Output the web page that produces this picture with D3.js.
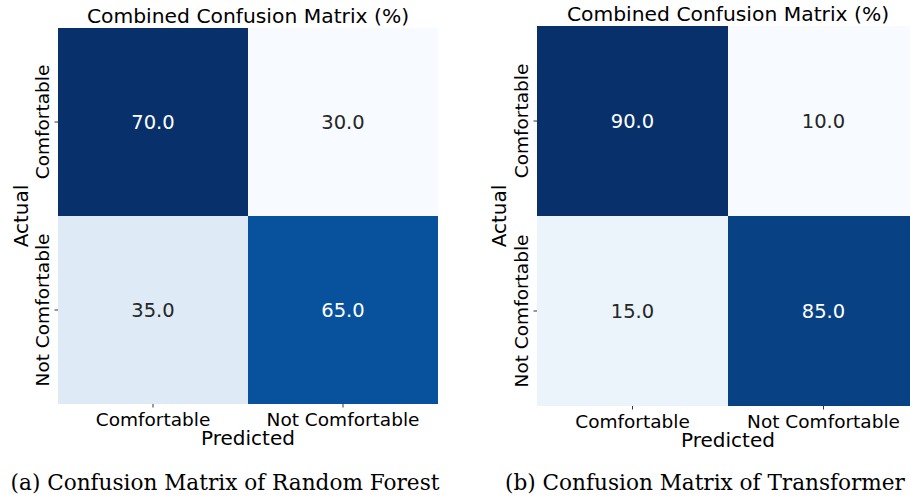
<!DOCTYPE html>
<html>
<head>
<meta charset="utf-8">
<script src="https://cdn.jsdelivr.net/npm/d3@7"></script>
<style>
  body { margin: 0; background: #fff; }
  svg { display: block; }
  text { font-family: "DejaVu Sans", sans-serif; }
</style>
</head>
<body>
<div id="container"></div>
<script>
// classes
var labels = ["Comfortable", "Not Comfortable"]
// values (%) row = actual, col = predicted
var rfValues = [[70.0, 30.0], [35.0, 65.0]]
var trValues = [[90.0, 10.0], [15.0, 85.0]]
var title = "Combined Confusion Matrix (%)"
var captions = ["(a) Confusion Matrix of Random Forest", "(b) Confusion Matrix of Transformer"]

var ancho = 910, alto = 500

var svg = d3.select("#container").append("svg")
    .attr("width", ancho)
    .attr("height", alto)

// Blues like matplotlib (linear between the 9 brewer stops)
var blues = d3.piecewise(d3.interpolateRgb, d3.schemeBlues[9])

var paneles = [
  {values: rfValues, x0: 58, x1: 438, y0: 28, y1: 404, titleY: 23, caption: captions[0], capX: 225, yLab: 20},
  {values: trValues, x0: 537, x1: 919, y0: 26, y1: 406, titleY: 21, caption: captions[1], capX: 705, yLab: 498}
]

paneles.forEach(function(p) {
  var g = svg.append("g")
  var x = d3.scaleBand().domain(labels).range([p.x0, p.x1])
  var y = d3.scaleBand().domain(labels).range([p.y0, p.y1])
  var flat = []
  p.values.forEach(function(row, i) {
    row.forEach(function(v, j) { flat.push({actual: labels[i], pred: labels[j], v: v}) })
  })
  var color = d3.scaleSequential(blues).domain(d3.extent(flat, function(d) { return d.v }))

  g.selectAll("rect").data(flat).enter().append("rect")
    .attr("x", function(d) { return x(d.pred) })
    .attr("y", function(d) { return y(d.actual) })
    .attr("width", x.bandwidth())
    .attr("height", y.bandwidth())
    .attr("fill", function(d) { return color(d.v) })

  var mid = d3.mean(color.domain())
  g.selectAll("text.val").data(flat).enter().append("text")
    .attr("class", "val")
    .attr("x", function(d) { return x(d.pred) + x.bandwidth() / 2 })
    .attr("y", function(d) { return y(d.actual) + y.bandwidth() / 2 + 7 })
    .attr("text-anchor", "middle")
    .attr("font-size", 19.5)
    .attr("fill", function(d) { return d.v > mid ? "#ffffff" : "#262626" })
    .text(function(d) { return d.v.toFixed(1) })

  // axes
  var xAxis = d3.axisBottom(x).tickSize(3.5).tickPadding(5)
  var gx = g.append("g").attr("transform", "translate(0," + p.y1 + ")").call(xAxis)
  gx.select(".domain").remove()
  gx.selectAll("text").attr("font-size", 18.5).attr("fill", "#000").attr("font-family", "DejaVu Sans")
  gx.selectAll("line").attr("stroke", "#000").attr("stroke-width", 0.8)

  var yAxis = d3.axisLeft(y).tickSize(3.5).tickPadding(5)
  var gy = g.append("g").attr("transform", "translate(" + p.x0 + ",0)").call(yAxis)
  gy.select(".domain").remove()
  gy.selectAll("line").attr("stroke", "#000").attr("stroke-width", 0.8)
  gy.selectAll("text")
    .attr("font-size", 18.5).attr("fill", "#000").attr("font-family", "DejaVu Sans")
    .attr("x", null).attr("dy", null)
    .attr("text-anchor", "middle")
    .attr("transform", "translate(-9,0) rotate(-90)")

  var cx = (p.x0 + p.x1) / 2

  g.append("text")
    .attr("x", cx).attr("y", p.titleY)
    .attr("text-anchor", "middle").attr("font-size", 20.3)
    .text(title)

  g.append("text")
    .attr("x", cx).attr("y", p.y1 + 41)
    .attr("text-anchor", "middle").attr("font-size", 20)
    .text("Predicted")

  g.append("text")
    .attr("transform", "translate(" + (p.yLab + 8) + "," + ((p.y0 + p.y1) / 2) + ") rotate(-90)")
    .attr("text-anchor", "middle").attr("font-size", 20)
    .text("Actual")

  g.append("text")
    .attr("x", p.capX).attr("y", 490)
    .attr("text-anchor", "middle").attr("font-size", 21.6)
    .style("font-family", "'DejaVu Serif', serif")
    .text(p.caption)
})
</script>
</body>
</html>
